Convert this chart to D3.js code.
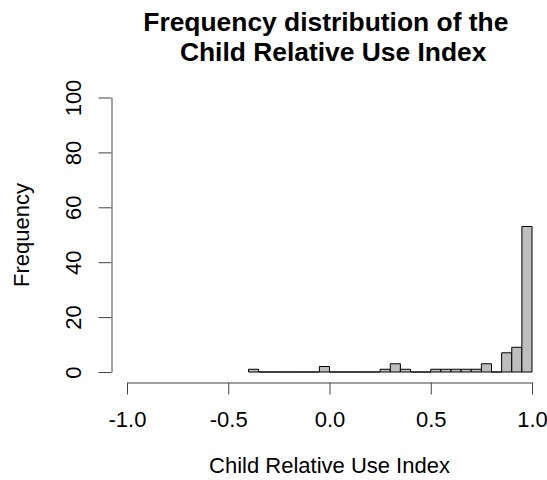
<!DOCTYPE html>
<html>
<head>
<meta charset="utf-8">
<script src="https://cdn.jsdelivr.net/npm/d3@7"></script>
<style>
  body { margin: 0; background: #fff; }
  text { font-family: "Liberation Sans", Arial, sans-serif; }
</style>
</head>
<body>
<svg id="chart" width="547" height="480"></svg>
<script>
// histogram bins (lower edge, width 0.05) and counts
var binStarts = [-0.40, -0.35, -0.30, -0.25, -0.20, -0.15, -0.10, -0.05,
                  0.00,  0.05,  0.10,  0.15,  0.20,  0.25,  0.30,  0.35,
                  0.40,  0.45,  0.50,  0.55,  0.60,  0.65,  0.70,  0.75,
                  0.80,  0.85,  0.90,  0.95];
var counts    = [1, 0, 0, 0, 0, 0, 0, 2,
                 0, 0, 0, 0, 0, 1, 3, 1,
                 0, 0, 1, 1, 1, 1, 1, 3,
                 0, 7, 9, 53];
var binWidth = 0.05;
var xTicks = [-1.0, -0.5, 0.0, 0.5, 1.0];
var yTicks = [0, 20, 40, 60, 80, 100];
var titleLines = ["Frequency distribution of the ", " Child Relative Use Index"];
var xTitle = "Child Relative Use Index",
    yTitle = "Frequency";

(function() {

	var svg = d3.select('#chart');

	var x = d3.scaleLinear().domain([-1, 1]).range([127, 532]),
		y = d3.scaleLinear().domain([0, 100]).range([372, 97.5]);

	var data = binStarts.map(function(b, i) { return { x0: b, x1: b + binWidth, n: counts[i] }; });

	// bars as closed paths so empty bins still show as a flat line
	svg.append('g').selectAll('path')
		.data(data)
		.enter()
			.append('path')
			.attr('d', function(d) {
				var p = d3.path();
				p.moveTo(x(d.x0), y(0));
				p.lineTo(x(d.x1), y(0));
				p.lineTo(x(d.x1), y(d.n));
				p.lineTo(x(d.x0), y(d.n));
				p.closePath();
				return p.toString();
			})
			.attr('fill', '#bebebe')
			.attr('stroke', '#000')
			.attr('stroke-width', 1);

	// x axis (offset below the plot like R)
	var xAxis = svg.append('g')
		.attr('transform', 'translate(0,382.5)')
		.call(d3.axisBottom(x).tickValues(xTicks).tickSize(12).tickSizeOuter(0)
			.tickFormat(d3.format('.1f')));
	xAxis.selectAll('text')
		.attr('y', 44.5).attr('dy', 0)
		.text(function(d) { return d3.format('.1f')(d).replace('−', '-'); });

	// y axis
	var yAxis = svg.append('g')
		.attr('transform', 'translate(111.5,0)')
		.call(d3.axisLeft(y).tickValues(yTicks).tickSize(13).tickSizeOuter(0));
	yAxis.selectAll('text')
		.attr('x', 0).attr('dy', 0).attr('y', 0)
		.attr('text-anchor', 'middle')
		.attr('transform', 'translate(-31,0) rotate(-90)');

	[xAxis, yAxis].forEach(function(a) {
		a.attr('font-family', null).attr('font-size', null);
		a.selectAll('path, line').attr('stroke', '#444');
		a.selectAll('text').attr('font-size', 22).attr('fill', '#000');
	});

	// titles
	svg.append('g').selectAll('text')
		.data(titleLines)
		.enter()
			.append('text')
			.attr('x', 329.5)
			.attr('y', function(d, i) { return 31 + i * 30; })
			.attr('text-anchor', 'middle')
			.attr('font-size', 26.4)
			.attr('font-weight', 'bold')
			.style('white-space', 'pre')
			.text(function(d) { return d; });

	svg.append('text')
		.attr('x', 329.5).attr('y', 473)
		.attr('text-anchor', 'middle')
		.attr('font-size', 22)
		.text(xTitle);

	svg.append('text')
		.attr('transform', 'translate(29,235) rotate(-90)')
		.attr('text-anchor', 'middle')
		.attr('font-size', 22)
		.text(yTitle);

}());
</script>
</body>
</html>
